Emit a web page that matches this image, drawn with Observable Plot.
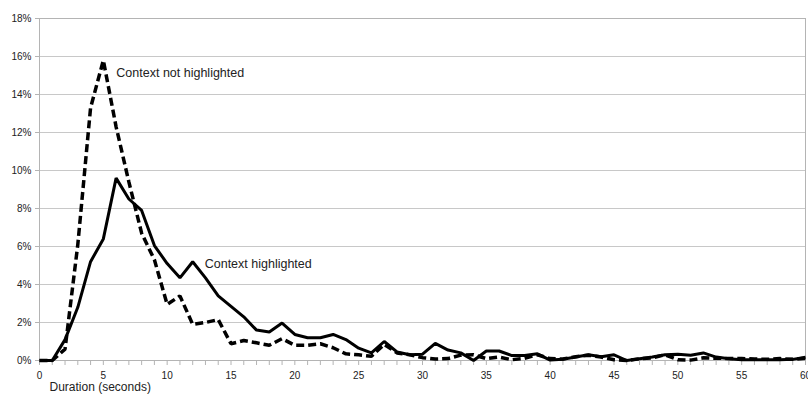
<!DOCTYPE html>
<html><head><meta charset="utf-8">
<script src="https://cdn.jsdelivr.net/npm/d3@7"></script>
<script src="https://cdn.jsdelivr.net/npm/@observablehq/plot@0.6"></script>
<style>
body{margin:0;background:#fff;}
#chart svg{font-family:"Liberation Sans",Arial,sans-serif;}
</style>
</head><body><div id="chart"></div>
<script>
const seconds = [0,1,2,3,4,5,6,7,8,9,10,11,12,13,14,15,16,17,18,19,20,21,22,23,24,25,26,27,28,29,30,31,32,33,34,35,36,37,38,39,40,41,42,43,44,45,46,47,48,49,50,51,52,53,54,55,56,57,58,59,60];
// percent of responses, context highlighted (solid)
const highlighted = [0,0,1.1,2.8,5.2,6.4,9.6,8.5,7.9,6.05,5.1,4.35,5.2,4.35,3.4,2.85,2.3,1.6,1.5,1.97,1.37,1.2,1.2,1.37,1.1,0.65,0.4,1.0,0.45,0.3,0.33,0.9,0.55,0.4,0.0,0.5,0.5,0.26,0.26,0.35,0.02,0.07,0.18,0.3,0.2,0.3,0.0,0.09,0.18,0.3,0.33,0.28,0.4,0.18,0.09,0.04,0.04,0.04,0.04,0.06,0.17];
// percent of responses, context not highlighted (dashed)
const notHighlighted = [0,0,0.6,6.1,13.3,15.8,12.3,9.4,6.7,5.3,2.95,3.4,1.9,2.0,2.15,0.88,1.05,0.93,0.8,1.15,0.8,0.8,0.88,0.67,0.35,0.3,0.22,0.85,0.4,0.3,0.15,0.08,0.1,0.28,0.3,0.1,0.18,0.04,0.12,0.3,0.1,0.08,0.2,0.28,0.18,0.04,0,0.09,0.14,0.3,0.04,0.02,0.14,0.12,0.1,0.1,0.08,0.06,0.1,0.06,0.12];
const xTickLabels = [0,5,10,15,20,25,30,35,40,45,50,55,60];
const yTicks = [0,2,4,6,8,10,12,14,16,18];
const seriesNames = ["Context highlighted","Context not highlighted"];
const xTitle = "Duration (seconds)";

const solidData = seconds.map((s,i)=>({s, v: highlighted[i]}));
const dashedData = seconds.map((s,i)=>({s, v: notHighlighted[i]}));
const peakNot = d3.greatestIndex(notHighlighted);
const labelHighIndex = seconds.indexOf(12);

const gray = "#b4b4b4";
const chart = Plot.plot({
  width: 808, height: 396,
  marginLeft: 39, marginRight: 3, marginTop: 18, marginBottom: 36,
  style: {fontFamily: '"Liberation Sans", Arial, sans-serif', color: "#222", background: "#fff"},
  x: {domain: [0,60]},
  y: {domain: [0,18]},
  marks: [
    Plot.gridY(yTicks, {stroke: "#c8c8c8", strokeOpacity: 1, strokeWidth: 1}),
    Plot.frame({stroke: gray, strokeWidth: 1}),
    Plot.axisY(yTicks, {tickSize: 4, tickPadding: 4, stroke: gray, fontSize: 10, tickFormat: d => d + "%", label: null, fill: "#222"}),
    Plot.axisX(seconds, {tickSize: 5, stroke: gray, tickFormat: () => "", label: null}),
    Plot.axisX(xTickLabels, {tickSize: 0, tickPadding: 11, fontSize: 10, label: null, fill: "#222"}),
    Plot.text([xTitle], {frameAnchor: "bottom-left", text: d => d, dx: 10, dy: 30, textAnchor: "start", fontSize: 12, fill: "#222"}),
    Plot.line(solidData, {x: "s", y: "v", stroke: "#000", strokeWidth: 3, strokeLinejoin: "miter", strokeLinecap: "butt"}),
    Plot.line(dashedData, {x: "s", y: "v", stroke: "#000", strokeWidth: 3.5, strokeDasharray: "8,4", strokeLinejoin: "miter", strokeLinecap: "butt"}),
    Plot.text([{x: seconds[peakNot], y: notHighlighted[peakNot], t: seriesNames[1]}], {x: "x", y: "y", text: "t", textAnchor: "start", dx: 13, dy: 13, fontSize: 12.5, fill: "#222"}),
    Plot.text([{x: seconds[labelHighIndex], y: highlighted[labelHighIndex], t: seriesNames[0]}], {x: "x", y: "y", text: "t", textAnchor: "start", dx: 12, dy: 2, fontSize: 12.5, fill: "#222"})
  ]
});
document.getElementById("chart").appendChild(chart);
</script>
</body></html>
